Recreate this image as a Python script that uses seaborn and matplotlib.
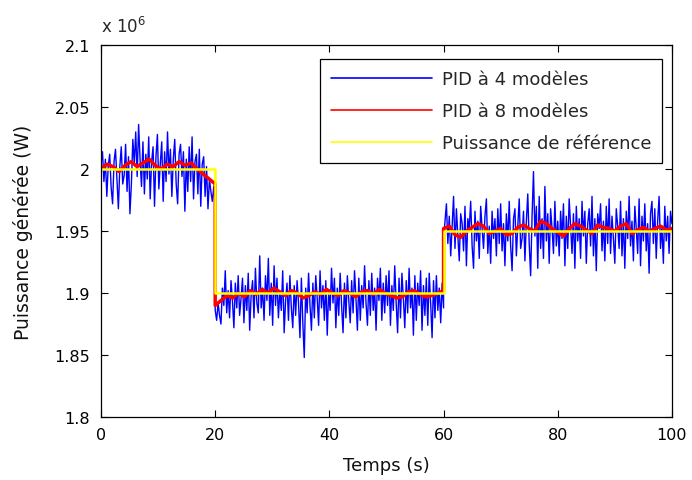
import numpy as np
import pandas as pd
import matplotlib
matplotlib.use("Agg")
import matplotlib.pyplot as plt
import seaborn as sns
from matplotlib.ticker import FuncFormatter

# ---- data: deviations in kW around each reference level ----
seg_bounds = [(0, 20), (20, 60), (60, 100)]
ref_levels = [2.0e6, 1.9e6, 1.95e6]

blue_seg1 = [5, 14, -10, 8, -22, 3, 12, -15, -28, 6, 16, -8, -32, 2, 18, -12,
             -5, 20, -18, 10, -36, -12, 24, 4, 30, -6, 36, 8, -14, 22, -20, 12,
             -8, 26, -24, 6, 18, -30, 10, 28, -16, 4, 22, -26, 14, -10, 30, -4,
             16, -22, 8, 24, -12, -28, 12, 20, -6, 14, -34, 8, -18, 18, -10, 26,
             -24, 6, 12, -20, 16, -30, 4, 10, -22, 2, -32, -8, -18, -26, -14, -30]
blue_seg2 = [-14, -22, -8, -18, -25, 4, -10, 18, -16, 2, -20, 10, -6, -28, 8, -12,
             14, -18, -4, 12, -24, 6, -14, 16, -30, -2, 10, -20, 20, -8, -16, 30,
             -12, 4, -22, 14, -6, 28, -18, 8,
             -26, 22, -10, 12, -20, 2, -14, 18, -32, -6, 8, -22, 14, -12, -28, 6,
             -18, 10, -8, -36, 12, -24, -52, 4, -16, 16, -10, -30, 8, -20, 14, -4,
             -26, 18, -12, 6, -22, 10, -34, 2,
             -14, 20, -8, 12, -28, 4, -18, 16, -10, -32, 8, -20, 14, -6, -24, 10,
             -16, 18, -4, -30, 12, -22, 6, -12, 22, -8, -26, 10, -18, 16, -14, 4,
             -30, 12, -6, 20, -22, 8, -16, 14,
             -10, 18, -26, 6, -14, 22, -8, -32, 12, -20, 16, -4, -28, 10, -16, 20,
             -12, 4, -34, 14, -22, 8, -10, 18, -30, 6, -18, 12, -26, 16, -8, -36,
             10, -20, 14, -14, 4, -24, 8, -12]
blue_seg3 = [-6, 8, 22, -10, 12, -20, 4, 28, -14, 18, -4, -24, 14, 6, -16, 20,
             -28, 10, 2, 24, -12, -30, 16, -8, 8, -22, 20, 2, -14, 12, 26, -18,
             4, -26, 16, -6, 10, -20, 18, -10,
             22, -16, 6, -28, 14, -8, 24, -12, -32, 10, 18, -20, 4, 26, -14, -6,
             16, -24, 8, 30, -10, -36, 12, 48, -4, 20, -30, 28, -14, 10, -22, 36,
             -8, 14, -26, 18, 2, -18, 24, -12,
             8, -20, 16, -6, 22, -28, 12, -14, 26, 4, -18, 14, -30, 20, -8, 10,
             -22, 24, -4, 16, -26, 6, 18, -12, 28, -20, 10, -32, 14, 2, 22, -16,
             8, -24, 20, -10, 26, -18, 12, -6,
             -26, 18, 4, -14, 24, -20, 10, -30, 16, -6, 28, -12, 8, -24, 20, 2,
             -18, 26, -28, 12, -8, 22, -16, 6, -34, 14, 24, -10, 18, -22, 8, 28,
             -14, 4, -26, 20, -8, 12, -18, 16, 6]

red_seg1 = [0, 4, 2, -2, 3, 6, 2, 5, 8, 3, 0, 4, 2, 6, 3, 5, 0, -4, -8, -12]
red_seg2 = [-10, -6, -2, -4, 0, -3, 2, -1, 3, 0, 4, 1, -2, 2, 0, -4, -2, 1, -1, 3,
            0, -2, 2, 0, -3, 1, 2, -1, 3, 0, -2, -4, -3, 1, 2, -1, -3, -2, 0, 2]
red_seg3 = [2, 4, -3, -5, 0, 3, 6, 4, -2, 0, 2, -3, -2, 3, 5, 2, 0, 8, 6, 2,
            -1, -4, 2, 6, 4, 1, -2, 5, 3, 2, 0, 4, 6, -2, 1, 3, 0, 2, 4, 1, 2]

ref_times = [0, 20, 20, 60, 60, 100]
ref_values = [2.0e6, 2.0e6, 1.9e6, 1.9e6, 1.95e6, 1.95e6]

labels = ["PID à 4 modèles", "PID à 8 modèles", "Puissance de référence"]
yticks = [1.8e6, 1.85e6, 1.9e6, 1.95e6, 2.0e6, 2.05e6, 2.1e6]
xticks = [0, 20, 40, 60, 80, 100]


def build(segs):
    ts, vs = [], []
    for (a, b), lvl, s in zip(seg_bounds, ref_levels, segs):
        ts.append(np.linspace(a, b, len(s)))
        vs.append(lvl + np.array(s) * 1e3)
    return np.concatenate(ts), np.concatenate(vs)


tb, vb = build([blue_seg1, blue_seg2, blue_seg3])
tr, vr = build([red_seg1, red_seg2, red_seg3])

df = pd.concat([
    pd.DataFrame({"t": tb, "v": vb, "s": labels[0]}),
    pd.DataFrame({"t": tr, "v": vr, "s": labels[1]}),
    pd.DataFrame({"t": ref_times, "v": ref_values, "s": labels[2]}),
])

sns.set_style("ticks")
plt.rcParams["font.family"] = ["DejaVu Sans"]

fig = plt.figure(figsize=(6.92, 4.81), dpi=100)
ax = fig.add_axes([0.146, 0.131, 0.825, 0.773])

colors = {labels[0]: "#0000ff", labels[1]: "#ff0000", labels[2]: "#ffff00"}
widths = {labels[0]: 1.0, labels[1]: 2.5, labels[2]: 1.8}
for lab in labels:
    sub = df[df["s"] == lab]
    sns.lineplot(data=sub, x="t", y="v", ax=ax, color=colors[lab], linewidth=widths[lab],
                 estimator=None, sort=False, label=lab)

ax.set_xlim(0, 100)
ax.set_ylim(1.8e6, 2.1e6)
ax.set_xticks(xticks)
ax.set_yticks(yticks)
ax.yaxis.set_major_formatter(FuncFormatter(lambda v, p: f"{v/1e6:g}"))
ax.tick_params(direction="in", top=True, right=True, labelsize=11.5, length=5, width=0.8,
               colors="black")
ax.tick_params(axis="y", pad=8)
ax.tick_params(axis="x", pad=7)
for sp in ax.spines.values():
    sp.set_visible(True)
    sp.set_color("black")
    sp.set_linewidth(0.9)
ax.set_xlabel("Temps (s)", fontsize=13, labelpad=10, color="#111111")
ax.set_ylabel("Puissance générée (W)", fontsize=13.5, labelpad=15, color="#111111")
ax.text(0.0, 1.025, r"x 10$^{6}$", transform=ax.transAxes, fontsize=12,
        ha="left", va="bottom")

leg = ax.legend(loc="upper right", fontsize=13, frameon=True, fancybox=False,
                edgecolor="black", framealpha=1, handlelength=5.6, borderpad=0.6,
                labelspacing=0.78, handletextpad=0.55, borderaxespad=0,
                bbox_to_anchor=(0.9825, 0.962))
leg.get_frame().set_linewidth(0.9)
for line in leg.get_lines():
    line.set_linewidth(1.2)

fig.savefig("out.png", dpi=100)
